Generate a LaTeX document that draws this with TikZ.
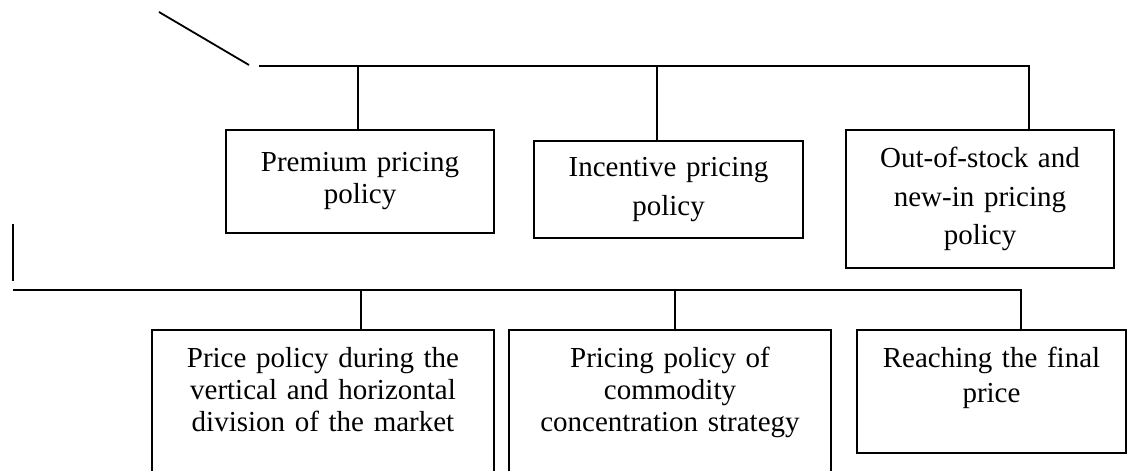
\documentclass[tikz,border=0pt]{standalone}
\usepackage{fontspec}
\setmainfont{Liberation Serif}
\usepackage{tikz}

\tikzset{
  policy/.style={draw, line width=0.9pt, align=center, inner xsep=4pt, font=\fontsize{14.5}{16}\selectfont},
  loose/.style={font=\fontsize{14.5}{19.25}\selectfont},
  openbox/.style={anchor=north, text height=11pt, inner ysep=8pt, text depth=90pt}
}

\begin{document}
\begin{tikzpicture}[x=0.5pt, y=-0.5pt, line width=0.9pt]
\clip (0,0) rectangle (1131,471);
\node[policy, text width=126pt, minimum height=51.5pt] (premium) at (360,181.5) {Premium pricing\\policy};
\node[policy, loose, text width=126.5pt, minimum height=48.5pt] (incentive) at (668.5,189.5) {Incentive pricing\\policy};
\node[policy, loose, text width=126pt, minimum height=69pt] (stock) at (980,199) {Out-of-stock and\\new-in pricing\\policy};
\node[policy, openbox, text width=163pt] (division) at (323,329) {Price policy during the\\vertical and horizontal\\division of the market};
\node[policy, openbox, text width=153pt] (concentration) at (670,329) {Pricing policy of\\commodity\\concentration strategy};
\node[policy, openbox, font=\fontsize{14.5}{17.5}\selectfont, text width=126.5pt, text depth=34.5pt] (final) at (991.5,329) {Reaching the final\\price};
\coordinate (slant) at (159,12);
\coordinate (slantend) at (249,65);
\coordinate (topleft) at (259,66);
\coordinate (topright) at (1029,66);
\coordinate (t1) at (358,66);
\coordinate (t2) at (657,66);
\coordinate (mark) at (13,224);
\coordinate (markend) at (13,281);
\coordinate (botleft) at (13,290);
\coordinate (botright) at (1021,290);
\coordinate (b1) at (361,290);
\coordinate (b2) at (675,290);
\draw (slant) -- (slantend);
\draw (topleft) -- (topright) -- (topright |- stock.north);
\draw (t1) -- (t1 |- premium.north);
\draw (t2) -- (t2 |- incentive.north);
\draw (mark) -- (markend);
\draw (botleft) -- (botright) -- (botright |- final.north);
\draw (b1) -- (b1 |- division.north);
\draw (b2) -- (b2 |- concentration.north);
\end{tikzpicture}
\end{document}
